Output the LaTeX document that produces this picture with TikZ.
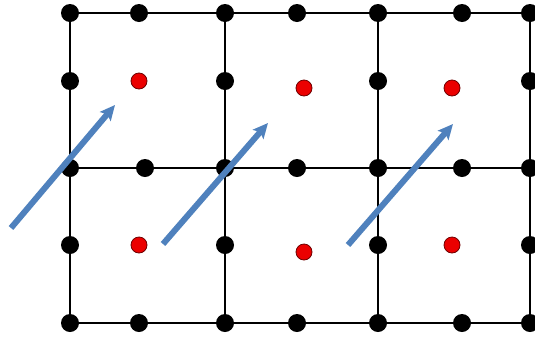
\documentclass[tikz,border=0pt]{standalone}
\usetikzlibrary{arrows.meta}
\definecolor{arrblue}{RGB}{79,129,189}
\definecolor{dotred}{RGB}{235,0,0}
\begin{document}
\begin{tikzpicture}[x=1pt,y=-1pt,
  gridline/.style={line width=1.5pt,black},
  bdot/.style={circle,fill=black,inner sep=0pt,minimum size=18pt},
  rdot/.style={circle,fill=dotred,draw={rgb,255:red,110;green,0;blue,0},line width=0.8pt,inner sep=0pt,minimum size=16pt},
  bigarrow/.style={line width=6pt,arrblue,-{Stealth[length=15pt,width=14pt,inset=3pt]}}]
\useasboundingbox (0,0) rectangle (535,338);
\clip (0,0) rectangle (535,338);
% grid
\draw[gridline] (70,13) rectangle (530,323);
\draw[gridline] (70,168) -- (530,168);
\draw[gridline] (225,13) -- (225,323);
\draw[gridline] (378,13) -- (378,323);
% black dots: top, middle, bottom rows
\foreach \x [count=\i] in {70,139,225,297,378,462,530} {
  \node[bdot] (t\i) at (\x,13) {};
  \node[bdot] (b\i) at (\x,323) {};
}
\foreach \x [count=\i] in {70,145,225,297,378,462,530} {
  \node[bdot] (m\i) at (\x,168) {};
}
\foreach \x [count=\i] in {70,225,378,530} {
  \node[bdot] (u\i) at (\x,81) {};
  \node[bdot] (l\i) at (\x,245) {};
}
% red dots
\node[rdot] (r1) at (139,81) {};
\node[rdot] (r2) at (304,88) {};
\node[rdot] (r3) at (452,88) {};
\node[rdot] (r4) at (139,245) {};
\node[rdot] (r5) at (304,252) {};
\node[rdot] (r6) at (452,245) {};
% arrows
\coordinate (a1s) at (11,228);
\coordinate (a1e) at (115,105);
\coordinate (a2s) at (163,244);
\coordinate (a2e) at (268,123);
\coordinate (a3s) at (348,245);
\coordinate (a3e) at (453,124);
\draw[bigarrow] (a1s) -- (a1e);
\draw[bigarrow] (a2s) -- (a2e);
\draw[bigarrow] (a3s) -- (a3e);
\end{tikzpicture}
\end{document}
